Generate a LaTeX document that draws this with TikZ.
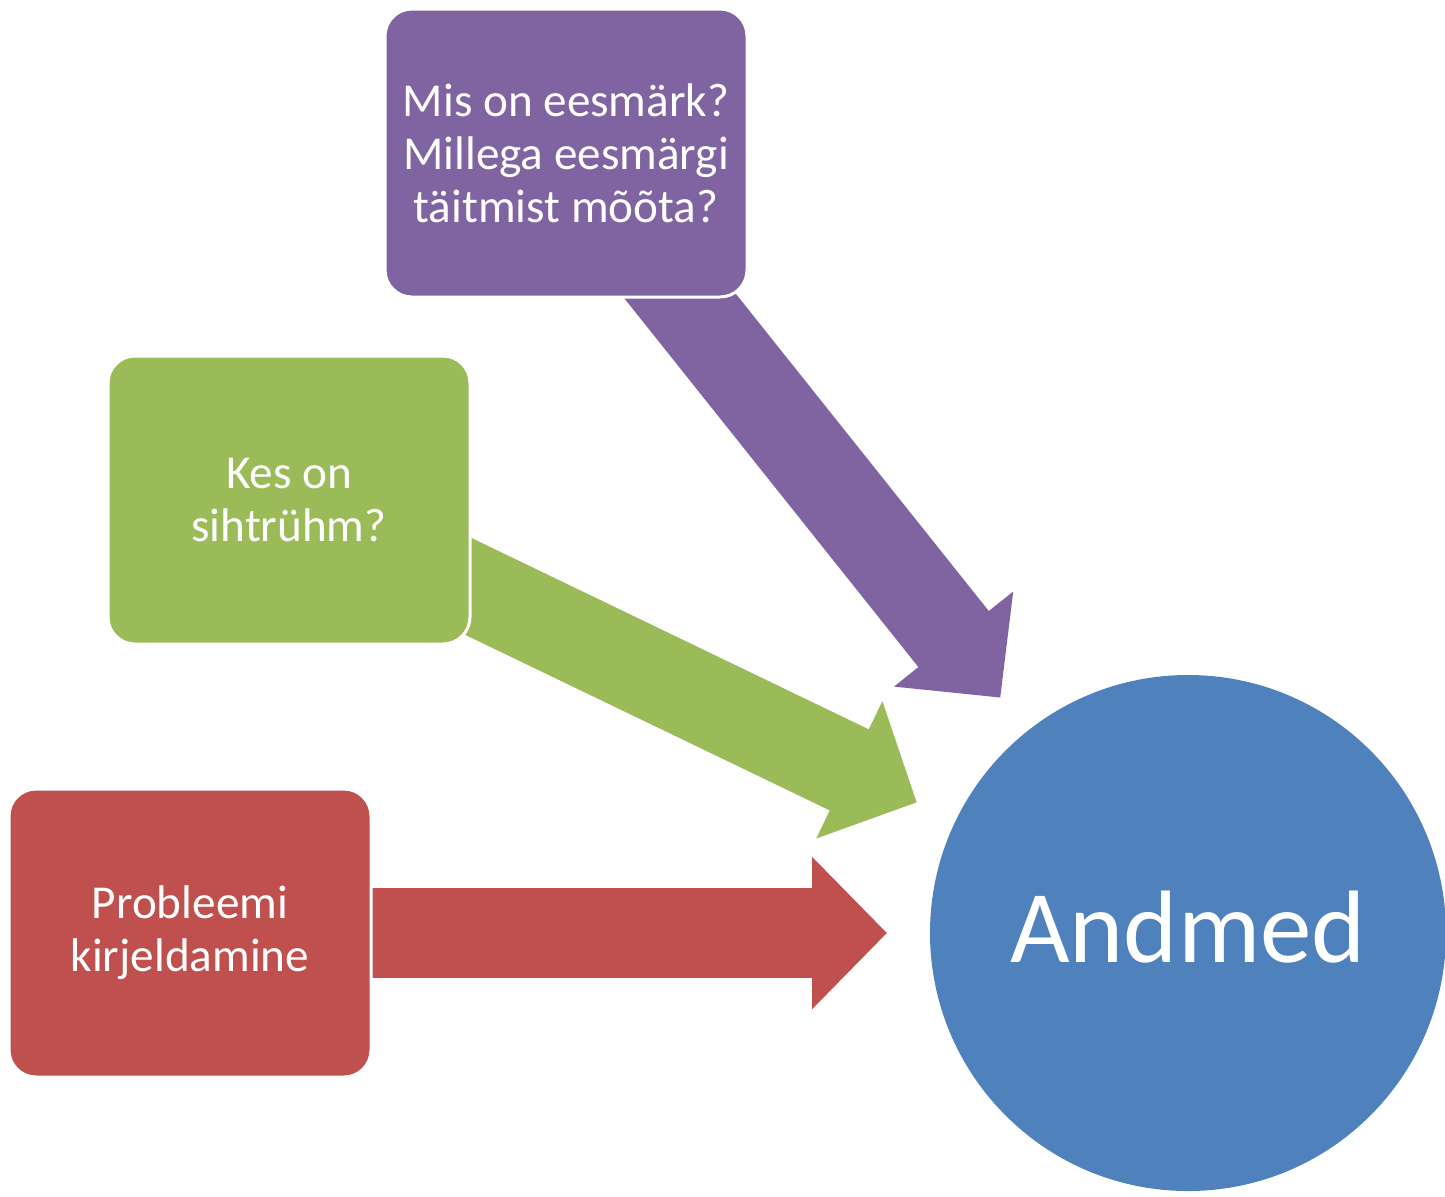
\documentclass[tikz,border=0pt]{standalone}
\usepackage{fontspec}
\setmainfont{Carlito}
\usetikzlibrary{arrows.meta,backgrounds}

\definecolor{boxRed}{HTML}{C0504D}
\definecolor{boxGreen}{HTML}{9BBB59}
\definecolor{boxPurple}{HTML}{8064A2}
\definecolor{circleBlue}{HTML}{4F81BD}

\begin{document}
\begin{tikzpicture}[x=0.5pt, y=-0.5pt]
        \tikzstyle{boxStyle} = [rectangle, rounded corners=13.5pt, draw=white, line width=1.5pt,
            minimum width=181pt, minimum height=144pt, inner sep=0pt, text=white, align=center,
            font=\fontsize{23.6}{26.5}\selectfont]
        \tikzstyle{bigArrow} = [line width=45pt, -{Triangle[length=37.5pt, width=74pt]}, shorten >=21.5pt]
        \useasboundingbox (0,0) rectangle (1445,1196);
        \node[circle, fill=circleBlue, minimum size=258pt, inner sep=0pt, outer sep=0pt,
            text=white, text height=29pt, text depth=0pt,
            font=\fontsize{51.5}{60}\selectfont] (andmed) at (1188,933) {Andmed};
        \node[boxStyle, fill=boxPurple] (eesm) at (566,153) {Mis on eesmärk?\\Millega eesmärgi\\täitmist mõõta?};
        \node[boxStyle, fill=boxGreen] (siht) at (289,500) {Kes on\\sihtrühm?};
        \node[boxStyle, fill=boxRed] (prob) at (190,933) {Probleemi\\kirjeldamine};
        \begin{scope}[on background layer]
        \foreach \from/\col in {prob/boxRed, siht/boxGreen, eesm/boxPurple}
            \draw[bigArrow, draw=\col] (\from.center) -- (andmed);
        \end{scope}
    \end{tikzpicture}
\end{document}
